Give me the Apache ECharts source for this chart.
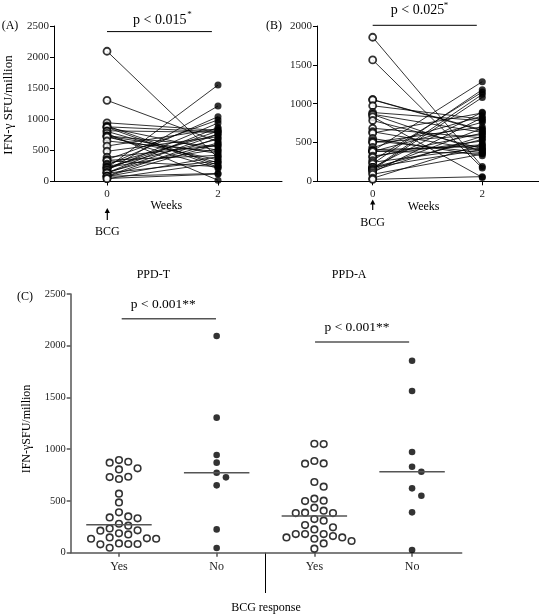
<!DOCTYPE html>
<html><head><meta charset="utf-8">
<script src="https://cdn.jsdelivr.net/npm/echarts@6/dist/echarts.min.js"></script>
<style>html,body{margin:0;padding:0;background:#fff}#c{width:539px;height:616px}</style>
</head><body><div id="c"></div><script>
// ---------- DATA ----------
const weekTicks = [0, 2];
const yTicksA = [0, 500, 1000, 1500, 2000, 2500];
const yTicksB = [0, 500, 1000, 1500, 2000];
const yTicksC = [0, 500, 1000, 1500, 2000, 2500];
const cCategories = ['Yes', 'No', 'Yes', 'No'];
const cGroups = ['PPD-T', 'PPD-A'];

// Panel A (PPD-T): paired values, week 0 -> week 2
const aWeek0 = [2094,1305,944,895,879,870,870,815,805,773,734,731,728,712,651,570,486,390,351,341,332,280,261,235,225,216,213,187,177,148,139,135,135,90,84,84,81,48,45];
const aWeek2 = [380,640,820,260,800,230,500,790,300,20,560,210,450,350,480,850,720,580,990,420,240,760,1042,680,520,1551,810,940,1214,620,870,330,760,700,600,130,400,120,300];

// Panel B (PPD-A): paired values, week 0 -> week 2
const bWeek0 = [1855,1563,1053,1050,973,886,863,860,831,783,683,638,622,551,522,503,499,435,406,390,387,383,383,325,309,267,245,225,180,180,180,161,148,148,135,113,90,39,26];
const bWeek2 = [190,170,660,650,800,780,630,380,50,420,560,400,880,330,370,700,600,840,450,1283,360,470,760,520,620,1150,430,1180,890,540,410,1120,1080,680,580,820,350,480,60];

// Panel C: baseline values by BCG response
const cPPDTYes = [895,879,870,815,805,734,731,712,570,486,390,351,341,332,280,261,235,216,213,187,177,148,139,135,135,90,84,84,81,48];
const cPPDTNo  = [2094,1305,944,870,773,728,651,225,45];
const cPPDAYes = [1053,1050,886,863,860,683,638,522,503,499,435,406,387,383,383,325,309,267,245,225,180,180,180,161,148,148,135,113,90,39];
const cPPDANo  = [1855,1563,973,831,783,622,551,390,26];

// ---------- HELPERS ----------
const FAM = 'Liberation Serif';
function median(arr) {
  const s = arr.slice().sort((a, b) => a - b);
  const n = s.length;
  return n % 2 ? s[(n - 1) / 2] : (s[n / 2 - 1] + s[n / 2]) / 2;
}
// simple beeswarm layout (offsets in px)
function swarm(values, pxPerUnit, step, diam) {
  const idx = values.map((v, i) => i).sort((a, b) => values[b] - values[a]);
  const placed = [];
  const off = new Array(values.length).fill(0);
  const order = [0, 1, -1, 2, -2, 3, -3, 4, -4, 5, -5];
  for (const i of idx) {
    const y = values[i] * pxPerUnit;
    for (const k of order) {
      const x = k * step;
      if (placed.every(p => Math.hypot(p.x - x, p.y - y) >= diam)) {
        off[i] = x; placed.push({ x, y }); break;
      }
    }
  }
  return off;
}

// ---------- LAYOUT ----------
const gA = { left: 54, top: 26, width: 228, height: 155.5 };
const gB = { left: 317, top: 26, width: 222, height: 155.3 };
const gC = { left: 70.7, top: 294, width: 391, height: 258.7 };
const xA = { min: -0.955, max: 3.153 };
const xB = { min: -1.016, max: 3.035 };
const xC = { min: -0.494, max: 3.508 };
const cPxPerX = gC.width / (xC.max - xC.min);
const cPxPerY = gC.height / 2500;

function yAxisDef(gridIndex, ticks, color, lw, fs) {
  return {
    type: 'value', gridIndex, min: ticks[0], max: ticks[ticks.length - 1],
    interval: ticks[1] - ticks[0],
    axisLine: { show: true, onZero: false, lineStyle: { color, width: lw } },
    axisTick: { show: true, length: 4, lineStyle: { color, width: lw } },
    axisLabel: { fontFamily: FAM, fontSize: fs, color: '#222', margin: 5, formatter: v => String(v) },
    splitLine: { show: false }
  };
}
function xAxisDef(gridIndex, range, ticks, color, lw, fs, fmt, margin) {
  return {
    type: 'value', gridIndex, min: range.min, max: range.max,
    axisLine: { show: true, onZero: false, lineStyle: { color, width: lw } },
    axisTick: { show: true, length: 4, customValues: ticks, lineStyle: { color, width: lw } },
    axisLabel: { customValues: ticks, fontFamily: FAM, fontSize: fs, color: '#222', margin,
      formatter: fmt, showMinLabel: true, showMaxLabel: true },
    splitLine: { show: false }
  };
}

const series = [];
function addPairs(w0, w2, axisIdx) {
  for (let i = 0; i < w0.length; i++) {
    series.push({
      type: 'line', xAxisIndex: axisIdx, yAxisIndex: axisIdx, symbol: 'none', silent: true,
      data: [[weekTicks[0], w0[i]], [weekTicks[1], w2[i]]],
      lineStyle: { color: '#000', width: 0.8 }, z: 2
    });
  }
  series.push({
    type: 'scatter', xAxisIndex: axisIdx, yAxisIndex: axisIdx, symbol: 'circle', symbolSize: 7,
    data: w0.map(v => [weekTicks[0], v]),
    itemStyle: { color: '#fff', borderColor: '#000', borderWidth: 1.8 }, z: 4
  });
  series.push({
    type: 'scatter', xAxisIndex: axisIdx, yAxisIndex: axisIdx, symbol: 'circle', symbolSize: 7,
    data: w2.map(v => [weekTicks[1], v]),
    itemStyle: { color: '#000' }, z: 4
  });
}
addPairs(aWeek0, aWeek2, 0);
addPairs(bWeek0, bWeek2, 1);

function sigBar(axisIdx, x0, x1, y, color, w) {
  series.push({
    type: 'line', xAxisIndex: axisIdx, yAxisIndex: axisIdx, symbol: 'none', silent: true, clip: false,
    data: [[x0, y], [x1, y]], lineStyle: { color, width: w }, z: 2
  });
}
sigBar(0, 0, 1.89, 2410, '#000', 1);
sigBar(1, 0, 1.90, 2009, '#000', 1);
sigBar(2, 0.028, 0.993, 2261, '#555', 1.5);
sigBar(2, 2.007, 2.97, 2036, '#555', 1.5);

const cSets = [cPPDTYes, cPPDTNo, cPPDAYes, cPPDANo];
cSets.forEach((vals, gi) => {
  const open = gi % 2 === 0;
  const offs = swarm(vals, cPxPerY, 9.3, open ? 8.6 : 7.4);
  series.push({
    type: 'scatter', xAxisIndex: 2, yAxisIndex: 2, symbol: 'circle',
    symbolSize: 6.6,
    data: vals.map((v, i) => [gi + offs[i] / cPxPerX, v]),
    itemStyle: open ? { color: '#fff', borderColor: '#000', borderWidth: 1.6 } : { color: '#000' },
    z: 4
  });
  const m = median(vals);
  series.push({
    type: 'line', xAxisIndex: 2, yAxisIndex: 2, symbol: 'none', silent: true,
    data: [[gi - 0.335, m], [gi + 0.335, m]],
    lineStyle: { color: '#555', width: 1.5 }, z: 5
  });
});

function txt(text, x, y, size, opts) {
  return Object.assign({
    type: 'text', x, y, silent: true,
    style: { text, font: size + 'px "Liberation Serif"', fill: '#000',
      align: 'center', verticalAlign: 'middle', textAlign: 'center', textVerticalAlign: 'middle' }
  }, opts || {});
}
function arrow(x, yTip, yEnd) {
  return [
    { type: 'line', silent: true, shape: { x1: x, y1: yTip + 3, x2: x, y2: yEnd }, style: { stroke: '#000', lineWidth: 1.2 } },
    { type: 'polygon', silent: true, shape: { points: [[x, yTip], [x - 2.6, yTip + 5], [x + 2.6, yTip + 5]] }, style: { fill: '#000' } }
  ];
}

const graphic = [
  txt('(A)', 10, 26, 12),
  txt('(B)', 274, 26, 12),
  txt('(C)', 25, 297, 12),
  txt('IFN-γ SFU/million', 8.5, 105, 13, { rotation: Math.PI / 2 }),
  txt('IFN-γSFU/million', 26.7, 429, 12, { rotation: Math.PI / 2 }),
  txt('p < 0.015', 159.7, 20, 14),
  txt('*', 189.5, 15, 9),
  txt('p < 0.025', 417.5, 10.5, 14),
  txt('*', 446, 5.5, 9),
  txt('Weeks', 166.3, 206, 12),
  txt('Weeks', 423.7, 206.7, 12),
  txt('BCG', 107.3, 232, 12),
  txt('BCG', 372.7, 222.5, 12),
  ...arrow(107.3, 208, 220),
  ...arrow(372.7, 199.5, 210),
  txt(cGroups[0], 153.3, 275, 12),
  txt(cGroups[1], 349.2, 275, 12),
  txt('p < 0.001**', 163.3, 304, 13.5),
  txt('p < 0.001**', 357, 327.5, 13.5),
  { type: 'line', silent: true, shape: { x1: 265.5, y1: 552.7, x2: 265.5, y2: 593 }, style: { stroke: '#000', lineWidth: 1 } },
  txt('BCG response', 266, 608, 12)
];

const option = {
  animation: false,
  backgroundColor: '#fff',
  grid: [gA, gB, gC].map(g => Object.assign({ containLabel: false }, g)),
  xAxis: [
    xAxisDef(0, xA, weekTicks, '#000', 1, 11, v => String(v), 7),
    xAxisDef(1, xB, weekTicks, '#000', 1, 11, v => String(v), 7),
    xAxisDef(2, xC, [0, 1, 2, 3], '#555', 1.5, 12, v => cCategories[Math.round(v)], 8)
  ],
  yAxis: [
    yAxisDef(0, yTicksA, '#000', 1, 11),
    yAxisDef(1, yTicksB, '#000', 1, 11),
    yAxisDef(2, yTicksC, '#555', 1.5, 10.5)
  ],
  series,
  graphic
};
const chart = echarts.init(document.getElementById('c'), null, { renderer: 'canvas' });
chart.setOption(option);
</script></body></html>
